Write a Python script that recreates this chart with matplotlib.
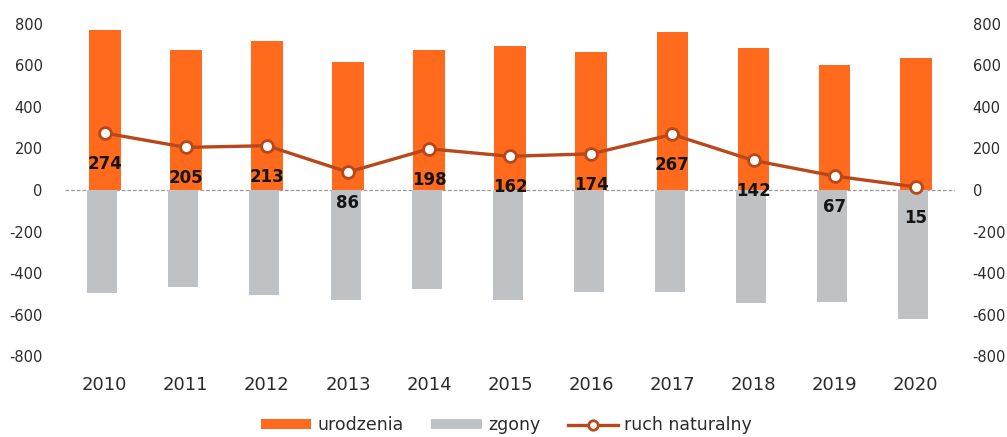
import numpy as np
import matplotlib
matplotlib.use('Agg')
import matplotlib.pyplot as plt

years = ['2010', '2011', '2012', '2013', '2014', '2015', '2016', '2017', '2018', '2019', '2020']
urodzenia = [771, 673, 718, 614, 674, 691, 664, 758, 683, 603, 634]
zgony = [-497, -468, -505, -528, -476, -529, -490, -491, -541, -536, -619]
ruch = [274, 205, 213, 86, 198, 162, 174, 267, 142, 67, 15]
yticks = [-800, -600, -400, -200, 0, 200, 400, 600, 800]

c_orange = '#FF6A1C'
c_gray = '#BEC2C5'
c_line = '#B8481C'
c_text = '#2b2b2b'

plt.rcParams['font.family'] = ['DejaVu Sans']
plt.rcParams['axes.unicode_minus'] = False

fig = plt.figure(figsize=(10.07, 4.37), dpi=100)
ax = fig.add_axes([0.0645, 0.1844, 0.8835, 0.7616])
ax2 = ax.twinx()

x = np.arange(len(years))
w = 0.39

ax.bar(x, urodzenia, width=w, color=c_orange, label='urodzenia', zorder=2)
ax.bar(x - 0.03, zgony, width=0.37, color=c_gray, label='zgony', zorder=2)
ax.axhline(0, color='#9a9a9a', lw=0.9, ls=(0, (3, 1.5)), zorder=1)

ax2.plot(x, ruch, color=c_line, lw=2.4, marker='o', markersize=8.5,
         markerfacecolor='white', markeredgecolor=c_line, markeredgewidth=2,
         label='ruch naturalny', zorder=3)
for xi, v in zip(x, ruch):
    ax2.annotate(str(v), (xi, v), xytext=(0, -31), textcoords='offset pixels',
                 ha='center', va='center', fontsize=12, fontweight='bold', color='#151515')

for a in (ax, ax2):
    a.set_ylim(-800, 800)
    a.set_yticks(yticks)
    a.set_xlim(-0.49, 10.48)
    for s in a.spines.values():
        s.set_visible(False)
    a.tick_params(axis='both', length=0, colors=c_text)

ax.set_xticks(x)
ax.set_xticklabels(years, fontsize=13)
ax.tick_params(axis='x', pad=14)
ax.tick_params(axis='y', labelsize=10.5, pad=16)
ax2.tick_params(axis='y', labelsize=10.5, pad=13)

h1, l1 = ax.get_legend_handles_labels()
h2, l2 = ax2.get_legend_handles_labels()
fig.legend(h1 + h2, l1 + l2, loc='center', bbox_to_anchor=(0.503, 0.027), ncol=3,
           frameon=False, fontsize=12.5, handlelength=2.9, handleheight=0.55,
           handletextpad=0.35, columnspacing=1.6, labelcolor=c_text, markerscale=0.8)

fig.savefig('out.png', dpi=100)
